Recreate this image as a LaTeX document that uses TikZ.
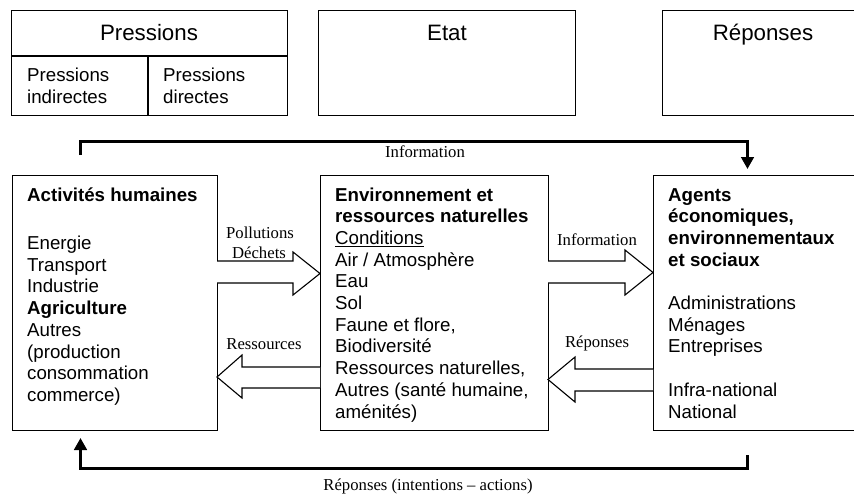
\documentclass[tikz,border=0pt]{standalone}
\usepackage{fontspec}
\setmainfont{Liberation Sans}
\newfontfamily\tnr{Liberation Serif}
\usetikzlibrary{arrows.meta}
\begin{document}
\begin{tikzpicture}[x=1pt,y=-1pt,
  box/.style={draw,line width=1.1pt,rectangle,inner sep=0pt,anchor=north west},
  txt/.style={inner sep=0pt,anchor=base west,align=left,font={\fontsize{18.7}{21.7}\selectfont}},
  ttl/.style={inner sep=0pt,anchor=base,font={\fontsize{22.3}{26}\selectfont}},
  lbl/.style={inner sep=0pt,anchor=base,font={\tnr\fontsize{16.7}{20}\selectfont}},
  fb/.style={line width=3.2pt,-{Triangle[length=12pt,width=12.5pt]}},
  blk/.style={draw,line width=1.1pt,fill=white,line join=miter}]
\useasboundingbox (0,0) rectangle (854,493);
\clip (0,0) rectangle (854,493);

% top boxes
\node[box,minimum width=276pt,minimum height=105pt] (pres) at (11,10) {};
\draw[line width=1.1pt] (11,56) -- (287,56);
\draw[line width=1.1pt] (148,56) -- (148,115);
\node[ttl] (presT) at (149,40) {Pressions};
% anchor at baseline of the last line
\node[txt] (presI) at (27,103) {Pressions\\indirectes};
\node[txt] (presD) at (163,103) {Pressions\\directes};

\node[box,minimum width=257pt,minimum height=105pt] (etat) at (318,10) {};
\node[ttl] (etatT) at (447,40) {Etat};

\node[box,minimum width=200pt,minimum height=105pt] (rep) at (662,10) {};
\node[ttl] (repT) at (763,40) {Réponses};

% main boxes
\node[box,minimum width=205pt,minimum height=255pt] (act) at (12,175) {};
\node[box,minimum width=228pt,minimum height=255pt] (env) at (320,175) {};
\node[box,minimum width=210pt,minimum height=255pt] (agt) at (653,175) {};

\node[txt] (actH) at (27,201) {\textbf{Activités humaines}};
\node[txt] (actB) at (27,401.4) {Energie\\Transport\\Industrie\\\textbf{Agriculture}\\Autres\\(production\\consommation\\commerce)};

\node[txt] (envB) at (335,418) {\textbf{Environnement et}\\\textbf{ressources naturelles}\\\underline{Conditions}\\Air / Atmosphère\\Eau\\Sol\\Faune et flore,\\Biodiversité\\Ressources naturelles,\\Autres (santé humaine,\\aménités)};

\node[txt] (agtB) at (668,418) {\textbf{Agents}\\\textbf{économiques,}\\\textbf{environnementaux}\\\textbf{et sociaux}\\[21.7pt]Administrations\\Ménages\\Entreprises\\[21.7pt]Infra-national\\National};

% block arrows
\draw[blk] (217,261) -- (293,261) -- (293,252) -- (320,273.5) -- (293,295) -- (293,283) -- (217,283);
\draw[blk] (548,261) -- (625,261) -- (625,250) -- (653,272.5) -- (625,295) -- (625,283) -- (548,283);
\draw[blk] (320,367) -- (242,367) -- (242,355) -- (217,377) -- (242,398) -- (242,388) -- (320,388);
\draw[blk] (653,369) -- (575,369) -- (575,357) -- (548,379.5) -- (575,402) -- (575,391) -- (653,391);

\node[lbl] (lPol) at (260,238) {Pollutions};
\node[lbl] (lDec) at (259,258) {Déchets};
\node[lbl] (lRes) at (264,349) {Ressources};
\node[lbl] (lInf) at (597,245) {Information};
\node[lbl] (lRep) at (597,347) {Réponses};

% feedback arrows
\coordinate (fbA) at (80.5,155);
\coordinate (fbB) at (747.5,169);
\draw[fb] (fbA) -- (80.5,141.5) -| (fbB);
\node[lbl] (lInfT) at (425,157) {Information};

\coordinate (fbC) at (747.5,455);
\coordinate (fbD) at (80.5,438);
\draw[fb] (fbC) -- (747.5,468.5) -| (fbD);
\node[lbl] (lRepB) at (428,490) {Réponses (intentions – actions)};
\end{tikzpicture}
\end{document}
